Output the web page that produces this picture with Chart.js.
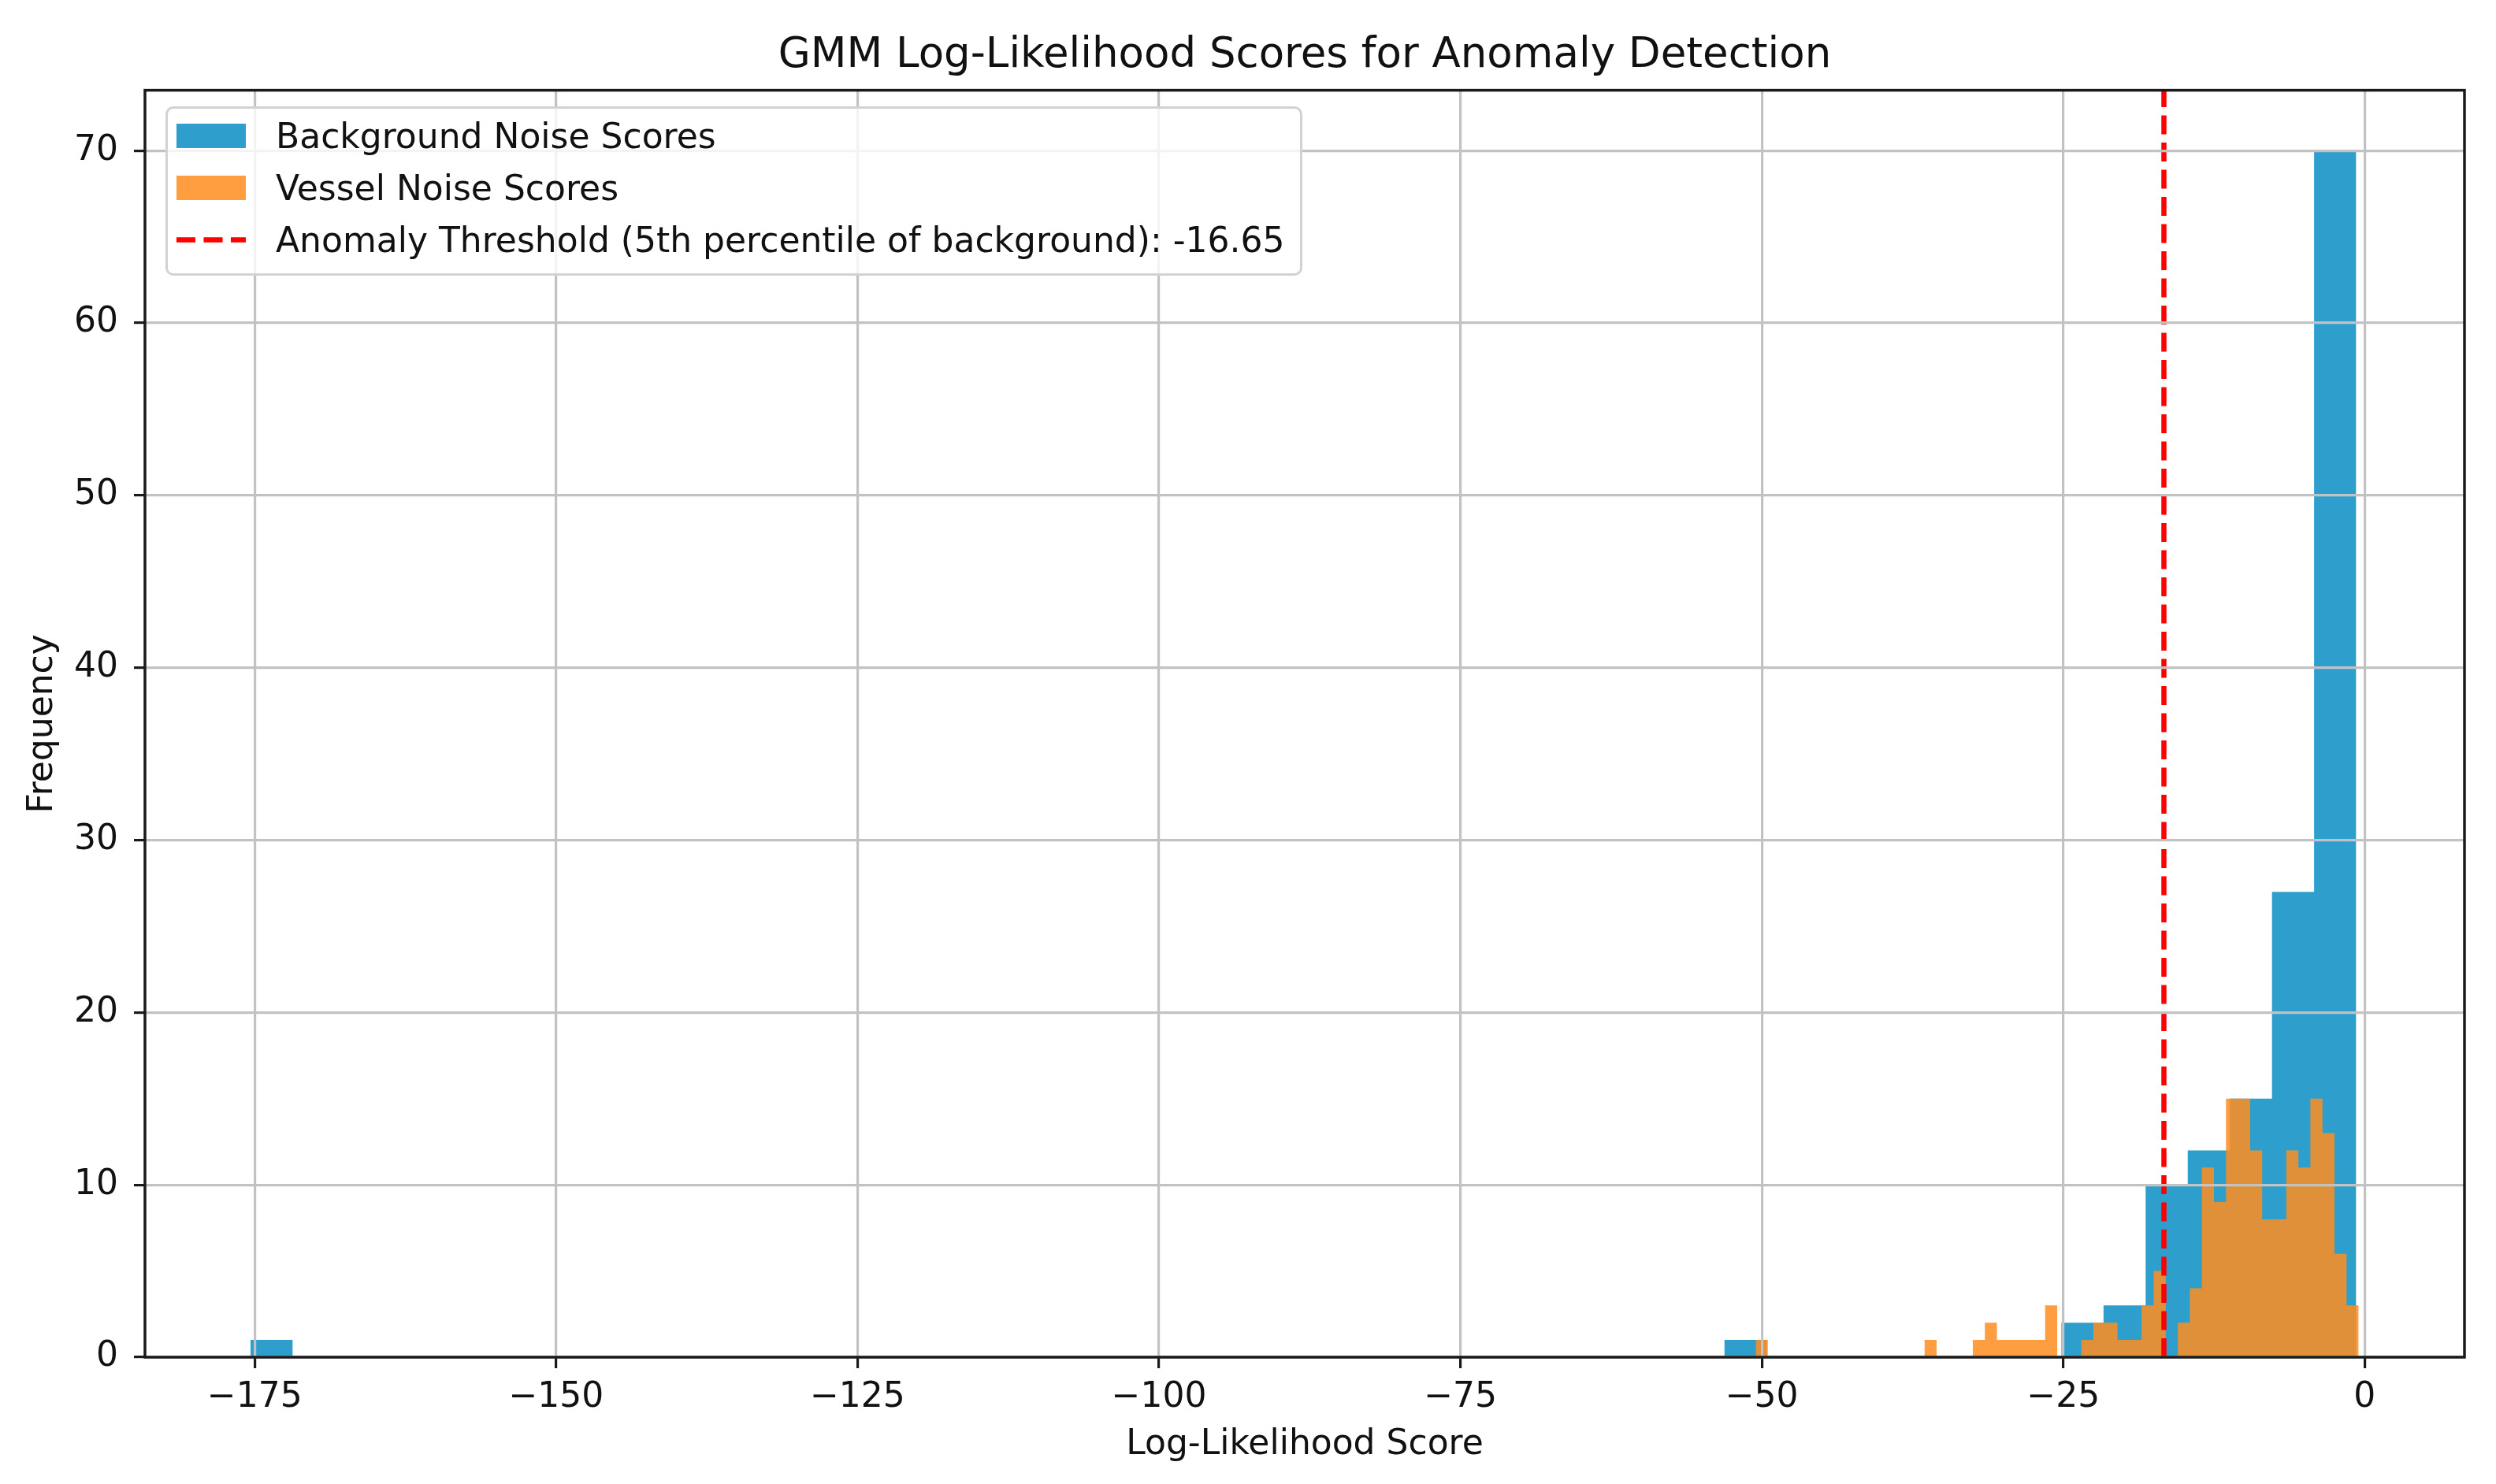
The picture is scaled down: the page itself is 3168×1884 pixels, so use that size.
<!DOCTYPE html>
<html>
<head>
<meta charset="utf-8">
<script src="https://cdn.jsdelivr.net/npm/chart.js@4.4.1/dist/chart.umd.min.js"></script>
<style>
  html, body { margin: 0; padding: 0; background: #ffffff; }
  #wrap { position: relative; width: 3168px; height: 1884px; }
  #legend {
    position: absolute; box-sizing: border-box;
    border: 3px solid #d2d2d2; border-radius: 10px;
    background: rgba(255,255,255,0.8);
    padding: 2px 19px 9px 11px;
    font-family: 'DejaVu Sans', sans-serif; font-size: 44px; color: #111;
    white-space: nowrap;
  }
  #legend .row { height: 66px; display: flex; align-items: center; }
  #legend .sw { width: 88px; height: 31px; margin-right: 38px; flex: none; }
  #legend svg { display: block; }
</style>
</head>
<body>
<div id="wrap">
  <canvas id="c" width="3168" height="1884"></canvas>
  <div id="legend"></div>
</div>
<script>
// ---------------- data ----------------
const chartTitle = 'GMM Log-Likelihood Scores for Anomaly Detection';
const xAxisLabel = 'Log-Likelihood Score';
const yAxisLabel = 'Frequency';
const seriesLabels = [
  'Background Noise Scores',
  'Vessel Noise Scores',
  'Anomaly Threshold (5th percentile of background): -16.65'
];

// background histogram: 50 bins
const bgBinStart = -175.35;
const bgBinWidth = 3.493;
const bgCounts = [
  1, 0, 0, 0, 0, 0, 0, 0, 0, 0,
  0, 0, 0, 0, 0, 0, 0, 0, 0, 0,
  0, 0, 0, 0, 0, 0, 0, 0, 0, 0,
  0, 0, 0, 0, 0, 1, 0, 0, 0, 0,
  0, 0, 0, 2, 3, 10, 12, 15, 27, 70
];

// vessel histogram: 50 bins
const vesselBinStart = -50.5;
const vesselBinWidth = 1.0;
const vesselCounts = [
  1, 0, 0, 0, 0, 0, 0, 0, 0, 0,
  0, 0, 0, 0, 1, 0, 0, 0, 1, 2,
  1, 1, 1, 1, 3, 0, 0, 1, 2, 2,
  1, 1, 3, 5, 0, 2, 4, 11, 9, 15,
  15, 12, 8, 8, 12, 11, 15, 13, 6, 3
];

const thresholdValue = -16.65;

const xTicks = [-175, -150, -125, -100, -75, -50, -25, 0];
const yTicks = [0, 10, 20, 30, 40, 50, 60, 70];
const xRange = [-184.1, 8.28];
const yRange = [0, 73.5];

// ---------------- helpers ----------------
function histPoints(start, width, counts) {
  const pts = counts.map((c, i) => ({ x: start + i * width, y: c }));
  pts.push({ x: start + counts.length * width, y: 0 });
  return pts;
}
const fmt = v => String(v).replace('-', '\u2212');

const colors = {
  bg: '#2E9FCD',
  vessel: 'rgba(255,142,34,0.86)',
  threshold: '#ff0000'
};

Chart.defaults.font.family = "'DejaVu Sans', sans-serif";
Chart.defaults.color = '#111';

const framePlugin = {
  id: 'frame',
  afterDraw(chart) {
    const { ctx, chartArea: a } = chart;
    ctx.save();
    ctx.strokeStyle = '#1a1a1a';
    ctx.lineWidth = 3.5;
    ctx.strokeRect(a.left, a.top, a.right - a.left, a.bottom - a.top);
    ctx.restore();
  }
};

const gridCommon = {
  color: '#c2c2c2',
  lineWidth: 3.2,
  z: 1,
  drawTicks: true,
  tickLength: 14,
  tickColor: '#1a1a1a',
  tickWidth: 3.2
};

const chart = new Chart(document.getElementById('c'), {
  type: 'line',
  data: {
    datasets: [
      {
        label: seriesLabels[0],
        data: histPoints(bgBinStart, bgBinWidth, bgCounts),
        stepped: true,
        fill: 'origin',
        backgroundColor: colors.bg,
        borderColor: 'rgba(0,0,0,0)',
        borderWidth: 0,
        pointRadius: 0,
        order: 3
      },
      {
        label: seriesLabels[1],
        data: histPoints(vesselBinStart, vesselBinWidth, vesselCounts),
        stepped: true,
        fill: 'origin',
        backgroundColor: colors.vessel,
        borderColor: 'rgba(0,0,0,0)',
        borderWidth: 0,
        pointRadius: 0,
        order: 2
      },
      {
        label: seriesLabels[2],
        data: [{ x: thresholdValue, y: yRange[0] }, { x: thresholdValue, y: yRange[1] }],
        borderColor: colors.threshold,
        borderWidth: 6.5,
        borderDash: [24, 10.5],
        fill: false,
        pointRadius: 0,
        order: 1
      }
    ]
  },
  options: {
    responsive: false,
    animation: false,
    events: [],
    layout: { padding: { left: 0, right: 40, top: 0, bottom: 0 } },
    plugins: {
      legend: { display: false },
      tooltip: { enabled: false },
      title: {
        display: true,
        fullSize: false,
        text: chartTitle,
        color: '#111',
        font: { size: 53, weight: 'normal' },
        padding: { top: 39, bottom: 12 }
      }
    },
    scales: {
      x: {
        type: 'linear',
        min: xRange[0],
        max: xRange[1],
        afterBuildTicks: s => { s.ticks = xTicks.map(v => ({ value: v })); },
        afterFit: s => { s.height = 161; },
        ticks: { font: { size: 44 }, color: '#111', padding: 11, maxRotation: 0, callback: v => fmt(v) },
        grid: gridCommon,
        border: { display: false },
        title: { display: true, text: xAxisLabel, font: { size: 44 }, color: '#111', padding: { top: 0, bottom: 23 } }
      },
      y: {
        type: 'linear',
        min: yRange[0],
        max: yRange[1],
        afterBuildTicks: s => { s.ticks = yTicks.map(v => ({ value: v })); },
        afterFit: s => { s.width = 184; },
        ticks: { font: { size: 44 }, color: '#111', padding: 20, callback: v => fmt(v) },
        grid: gridCommon,
        border: { display: false },
        title: { display: true, text: yAxisLabel, font: { size: 44 }, color: '#111', padding: { top: 28, bottom: 0 } }
      }
    }
  },
  plugins: [framePlugin]
});

// HTML legend built from the chart's datasets
(function buildLegend() {
  const el = document.getElementById('legend');
  const a = chart.chartArea;
  el.style.left = (a.left + 26) + 'px';
  el.style.top = (a.top + 20) + 'px';
  chart.data.datasets.forEach((ds, i) => {
    const row = document.createElement('div');
    row.className = 'row';
    const sw = document.createElement('div');
    sw.className = 'sw';
    if (ds.fill === 'origin') {
      sw.style.background = ds.backgroundColor;
    } else {
      sw.innerHTML = '<svg width="88" height="31"><line x1="0" y1="15.5" x2="88" y2="15.5" stroke="' +
        ds.borderColor + '" stroke-width="' + ds.borderWidth + '" stroke-dasharray="' + ds.borderDash.join(' ') + '"/></svg>';
    }
    const tx = document.createElement('span');
    tx.textContent = ds.label;
    row.appendChild(sw);
    row.appendChild(tx);
    el.appendChild(row);
  });
})();
</script>
</body>
</html>
